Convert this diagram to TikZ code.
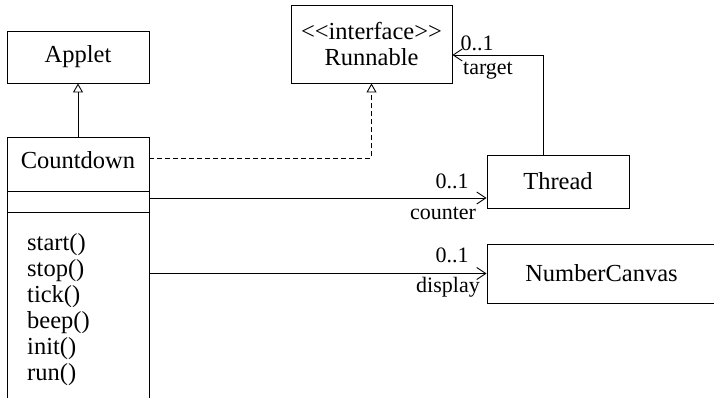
\documentclass[tikz,border=0pt]{standalone}
\usepackage{fontspec}
\setmainfont{Liberation Serif}
\usetikzlibrary{arrows.meta}
\begin{document}
\begin{tikzpicture}[x=1pt,y=-1pt,
  box/.style={draw, line width=0.9pt, inner sep=0pt, font=\fontsize{24.5}{26}\selectfont},
  txt/.style={inner sep=0pt, font=\fontsize{24.5}{26}\selectfont},
  lbl/.style={inner sep=0pt, font=\fontsize{22}{24}\selectfont},
  gen/.style={line width=0.9pt, -{Triangle[open,length=9pt,width=10pt]}},
  real/.style={gen, dash pattern=on 5pt off 3pt},
  assoc/.style={line width=0.9pt, -{Straight Barb[length=9pt,width=12pt]}}]
\useasboundingbox (0,0) rectangle (714,398);
\clip (0,0) rectangle (714,398);
\node[box, minimum width=142, minimum height=52] (applet) at (78,57) {Applet};
\node[box, minimum width=142, minimum height=54] (cdname) at (78,164) {};
\node[txt] (cdtitle) at (78,160) {Countdown};
\node[box, minimum width=142, minimum height=21] (cdattr) at (78,201.5) {};
\node[box, minimum width=142, minimum height=228] (cdops) at (78,326) {};
\node[txt, anchor=base west] (m1) at (27,250) {start()};
\node[txt, anchor=base west] (m2) at (27,276) {stop()};
\node[txt, anchor=base west] (m3) at (27,302) {tick()};
\node[txt, anchor=base west] (m4) at (27,328) {beep()};
\node[txt, anchor=base west] (m5) at (27,354) {init()};
\node[txt, anchor=base west] (m6) at (27,380) {run()};
\node[box, minimum width=161, minimum height=78, align=center] (runnable) at (371.5,44) {\char60\kern0pt\char60\kern0pt interface\char62\kern0pt\char62\\Runnable};
\node[box, minimum width=142, minimum height=53] (thread) at (558,181.5) {Thread};
\node[box, minimum width=229, minimum height=59] (nc) at (601.5,273.5) {NumberCanvas};
\draw[gen] (cdname.north) -- (applet.south);
\draw[real] (cdname.east |- 0,158) -| (runnable.south);
\draw[assoc] ([xshift=-15pt]thread.north) |- ([yshift=-11pt]runnable.east);
\draw[assoc] (cdattr.east |- 0,198) -- (thread.west |- 0,198);
\draw[assoc] (cdops.east |- nc.west) -- (nc.west);
\node[lbl] (l1) at (477,43) {0..1};
\node[lbl] (l2) at (488,71) {target};
\node[lbl] (l3) at (452,181) {0..1};
\node[lbl] (l4) at (443,213) {counter};
\node[lbl] (l5) at (452,255) {0..1};
\node[lbl] (l6) at (448,287) {display};
\end{tikzpicture}
\end{document}
